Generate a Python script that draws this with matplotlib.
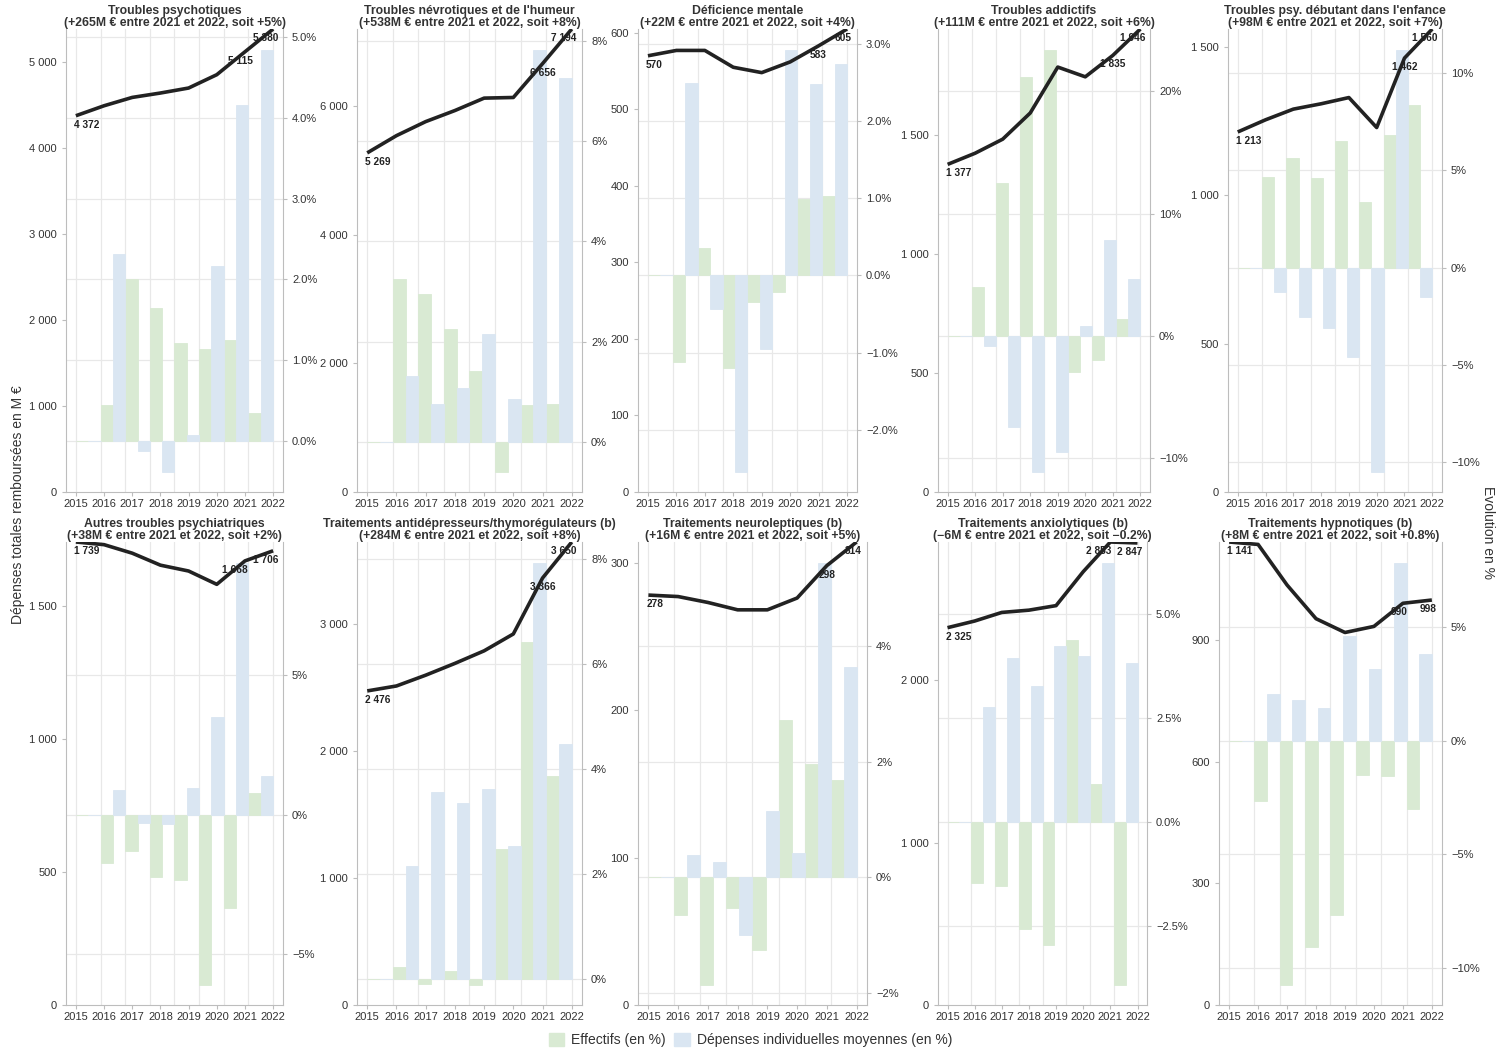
import matplotlib
matplotlib.use("Agg")
import matplotlib.pyplot as plt
from matplotlib.patches import Patch
from matplotlib.ticker import FuncFormatter, MultipleLocator

plt.rcParams["font.family"] = ["Liberation Sans", "DejaVu Sans"]

# --------------------------------------------------------------------------- #
# Data: total reimbursed spending (M€) and yearly evolution of its two drivers
# --------------------------------------------------------------------------- #
years = [2015, 2016, 2017, 2018, 2019, 2020, 2021, 2022]

titles = [
    "Troubles psychotiques",
    "Troubles névrotiques et de l'humeur",
    "Déficience mentale",
    "Troubles addictifs",
    "Troubles psy. débutant dans l'enfance",
    "Autres troubles psychiatriques",
    "Traitements antidépresseurs/thymorégulateurs (b)",
    "Traitements neuroleptiques (b)",
    "Traitements anxiolytiques (b)",
    "Traitements hypnotiques (b)",
]
subtitles = [
    "(+265M € entre 2021 et 2022, soit +5%)",
    "(+538M € entre 2021 et 2022, soit +8%)",
    "(+22M € entre 2021 et 2022, soit +4%)",
    "(+111M € entre 2021 et 2022, soit +6%)",
    "(+98M € entre 2021 et 2022, soit +7%)",
    "(+38M € entre 2021 et 2022, soit +2%)",
    "(+284M € entre 2021 et 2022, soit +8%)",
    "(+16M € entre 2021 et 2022, soit +5%)",
    "(\u22126M € entre 2021 et 2022, soit \u22120.2%)",
    "(+8M € entre 2021 et 2022, soit +0.8%)",
]

spending = [
    [4372, 4488, 4585, 4636, 4694, 4849, 5115, 5380],
    [5269, 5537, 5755, 5927, 6120, 6130, 6656, 7194],
    [570, 577, 577, 555, 548, 562, 583, 605],
    [1377, 1424, 1483, 1593, 1786, 1745, 1835, 1946],
    [1213, 1254, 1290, 1308, 1329, 1228, 1462, 1560],
    [1739, 1729, 1697, 1652, 1630, 1580, 1668, 1706],
    [2476, 2515, 2600, 2693, 2792, 2925, 3366, 3650],
    [278, 277, 273, 268, 268, 276, 298, 314],
    [2325, 2366, 2419, 2433, 2461, 2670, 2853, 2847],
    [1141, 1135, 1035, 952, 918, 933, 990, 998],
]

# Effectifs (en %)
effectifs = [
    [0, 0.44, 2.00, 1.65, 1.21, 1.14, 1.25, 0.34],
    [0, 3.24, 2.96, 2.25, 1.41, -0.60, 0.73, 0.76],
    [0, -1.12, 0.35, -1.20, -0.34, -0.21, 0.99, 1.03],
    [0, 4.03, 12.47, 21.13, 23.37, -2.97, -1.96, 1.39],
    [0, 4.68, 5.65, 4.59, 6.51, 3.36, 6.82, 8.36],
    [0, -1.72, -1.29, -2.23, -2.35, -6.08, -3.34, 0.78],
    [0, 0.23, -0.10, 0.14, -0.11, 2.48, 6.42, 3.86],
    [0, -0.64, -1.85, -0.52, -1.26, 2.71, 1.96, 1.68],
    [0, -1.47, -1.55, -2.57, -2.96, 4.38, 0.91, -3.91],
    [0, -2.66, -10.75, -9.10, -7.69, -1.49, -1.57, -3.01],
]

# Dépenses individuelles moyennes (en %)
depenses_ind = [
    [0, 2.31, -0.13, -0.38, 0.07, 2.17, 4.16, 4.84],
    [0, 1.31, 0.75, 1.08, 2.16, 0.86, 7.83, 7.26],
    [0, 2.49, -0.43, -2.54, -0.95, 2.92, 2.48, 2.74],
    [0, -0.82, -7.41, -11.08, -9.45, 0.82, 7.84, 4.63],
    [0, -1.26, -2.55, -3.11, -4.60, -10.48, 11.19, -1.49],
    [0, 0.88, -0.30, -0.34, 0.95, 3.49, 9.00, 1.39],
    [0, 2.15, 3.55, 3.35, 3.61, 2.52, 7.92, 4.47],
    [0, 0.39, 0.27, -0.99, 1.15, 0.43, 5.43, 3.64],
    [0, 2.77, 3.95, 3.28, 4.22, 3.98, 6.23, 3.83],
    [0, 2.06, 1.79, 1.45, 4.63, 3.18, 7.84, 3.84],
]

# Tick spacing of each panel's two axes and decimals of the % labels
left_step = [1000, 2000, 100, 500, 500, 500, 1000, 100, 1000, 300]
right_step = [1, 2, 1, 10, 5, 5, 2, 2, 2.5, 5]
right_decimals = [1, 0, 1, 0, 0, 0, 0, 0, 1, 0]

# --------------------------------------------------------------------------- #
# Layout (pixels of a 1501x1053 canvas)
# --------------------------------------------------------------------------- #
W, H = 1501, 1053
panel_x = [(66, 283), (357, 582), (638, 857), (938, 1150), (1228, 1442),
           (66, 283), (357, 582), (638, 867), (938, 1147), (1219, 1442)]
row_y = [(29, 492), (542, 1005)]
# horizontal shift (px) of the 2021 value label
nudge_2021 = [-5, 0, 0, 0, 0, -10, 0, 0, -12, -4]

GREEN = "#d9ead3"
BLUE = "#dae6f2"
LINE = "#222222"
TEXT = "#333333"
GRID = "#e8e8e8"
SPINE = "#bdbdbd"


def fmt_thousands(v, _pos=None):
    return f"{v:,.0f}".replace(",", " ")


def pct_formatter(decimals):
    def _fmt(v, _pos=None):
        if abs(v) < 1e-9:
            v = 0.0
        return f"{v:.{decimals}f}%".replace("-", "\u2212")
    return FuncFormatter(_fmt)


fig = plt.figure(figsize=(W / 100, H / 100), dpi=100, facecolor="white")

group = (years[-1] - years[0]) / len(years)  # bar groups share the year span
for k in range(len(titles)):
    x0, x1 = panel_x[k]
    y_top, y_bot = row_y[k // 5]
    rect = [x0 / W, 1 - y_bot / H, (x1 - x0) / W, (y_bot - y_top) / H]

    ax2 = fig.add_axes(rect)          # bars, right axis
    ax = ax2.twinx()                   # spending line, left axis
    ax.yaxis.tick_left()
    ax2.yaxis.tick_right()
    ax.set_zorder(ax2.get_zorder() + 1)
    ax.patch.set_visible(False)

    # bars
    left_edges = [years[0] + (y - years[0]) * group for y in years]
    ax2.bar(left_edges, effectifs[k], width=group / 2, align="edge",
            color=GREEN, edgecolor=GREEN, linewidth=0.6, zorder=2)
    ax2.bar([e + group / 2 for e in left_edges], depenses_ind[k], width=group / 2,
            align="edge", color=BLUE, edgecolor=BLUE, linewidth=0.6, zorder=2)

    lo_b = min(min(effectifs[k]), min(depenses_ind[k]), 0)
    hi_b = max(max(effectifs[k]), max(depenses_ind[k]))
    f0, f1 = 0.044, 0.955
    span = (hi_b - lo_b) / (f1 - f0)
    lo = lo_b - f0 * span
    ax2.set_ylim(lo, lo + span)
    ax2.yaxis.set_major_locator(MultipleLocator(right_step[k]))
    ax2.yaxis.set_major_formatter(pct_formatter(right_decimals[k]))
    ax2.yaxis.grid(True, color=GRID, linewidth=0.9)
    ax2.set_axisbelow(True)
    for i in range(len(years) + 1):
        ax2.axvline(years[0] + i * group, color=GRID, linewidth=0.9, zorder=0.5)

    # spending line
    ax.plot(years, spending[k], color=LINE, linewidth=2.6,
            solid_capstyle="butt", solid_joinstyle="round", zorder=5)
    ax.set_ylim(0, max(spending[k]))
    ax.yaxis.set_major_locator(MultipleLocator(left_step[k]))
    ax.yaxis.set_major_formatter(FuncFormatter(fmt_thousands))

    for idx, ha, dx in [(0, "left", -2), (6, "center", nudge_2021[k]), (7, "right", 5)]:
        ax.annotate(fmt_thousands(spending[k][idx]), (years[idx], spending[k][idx]),
                    xytext=(dx, -9), textcoords="offset pixels", ha=ha, va="center",
                    fontsize=7.3, fontweight="bold", color=LINE, zorder=4)

    ax2.set_xlim(years[0] - 0.35, years[-1] + 0.35)
    ax2.set_xticks(years)
    ax2.set_xticklabels([str(y) for y in years])

    for a in (ax, ax2):
        for side in ("top", "left", "right", "bottom"):
            a.spines[side].set_visible(False)
        a.tick_params(colors=SPINE, labelcolor=TEXT, labelsize=8, length=3, width=0.8)
    ax.spines["left"].set_visible(True)
    ax.spines["left"].set_color(SPINE)
    ax2.spines["right"].set_visible(True)
    ax2.spines["right"].set_color(SPINE)
    ax2.spines["bottom"].set_visible(True)
    ax2.spines["bottom"].set_color(SPINE)
    ax2.tick_params(axis="x", pad=2)

    ax2.set_title(f"{titles[k]}\n{subtitles[k]}", fontsize=8.8, fontweight="bold",
                  color=TEXT, pad=1, linespacing=1.0)

fig.text(18 / W, 1 - 505 / H, "Dépenses totales remboursées en M €", rotation=90,
         ha="center", va="center", fontsize=10, color=TEXT)
fig.text(1488 / W, 1 - 533 / H, "Evolution en %", rotation=-90,
         ha="center", va="center", fontsize=10, color=TEXT)

handles = [Patch(facecolor=GREEN, edgecolor=GREEN, label="Effectifs (en %)"),
           Patch(facecolor=BLUE, edgecolor=BLUE, label="Dépenses individuelles moyennes (en %)")]
fig.legend(handles=handles, loc="center", bbox_to_anchor=(0.5, 1 - 1040 / H), ncol=2,
           frameon=False, fontsize=10, handlelength=1.1, handleheight=1.1,
           handletextpad=0.5, columnspacing=0.6, labelcolor=TEXT)

fig.savefig("out.png", dpi=100, facecolor="white")
